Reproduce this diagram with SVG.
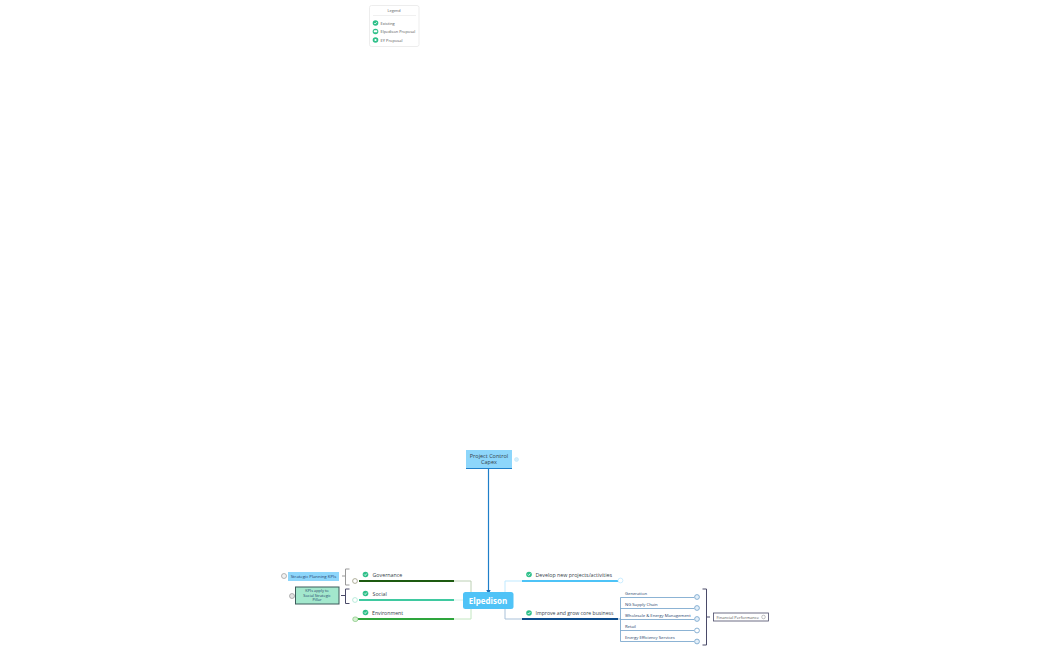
<svg xmlns="http://www.w3.org/2000/svg" width="1050" height="650" viewBox="0 0 1050 650">
<style>
text{font-family:"Open Sans","Liberation Sans",sans-serif;fill:#35424a}
.m{font-size:5.300px}
.b{font-size:4.200px;font-weight:500;fill:#24406a}
.l{font-size:4px;fill:#555}
.c{fill:none;stroke-width:1}
.dot{fill:#2fc08a}
.k{fill:none;stroke:#fff;stroke-width:.8}
.o{fill:#fff;stroke-width:.8}
.t{fill:#e4f0fa;stroke:#6f9fc9;stroke-width:.8}
.br{fill:none;stroke:#4a4a68;stroke-width:1}
</style>
<defs>
<marker id="a" markerWidth="4" markerHeight="4" refX="2" refY="2" orient="auto"><path d="M0 0L4 2L0 4Z" fill="#1f6fb5"/></marker>
<g id="chk"><circle r="2.800" class="dot"/><path d="M-1.300 0L-.3 1L1.300 -.9" class="k"/></g>
</defs>
<rect width="1050" height="650" fill="#fff"/>
<g id="connectors">
<path d="M488.500 469V592" fill="none" stroke="#1f7fc9" stroke-width="1.200" marker-end="url(#a)"/>
<path d="M463 600H454" class="c" stroke="#d5f2e8"/>
<path d="M471 593V581H454" class="c" stroke="#bcd0b4"/>
<path d="M471 608V619H454" class="c" stroke="#c2e6c0"/>
<path d="M505 593V581H522" class="c" stroke="#bfe9ff"/>
<path d="M505 608V619H522" class="c" stroke="#a9c1d9"/>
<path d="M359 581H454" fill="none" stroke="#1d5a10" stroke-width="1.800"/>
<path d="M359 600H454" fill="none" stroke="#3fc9a0" stroke-width="1.800"/>
<path d="M358 619H454" fill="none" stroke="#2ea53c" stroke-width="1.800"/>
<path d="M522 581H618" fill="none" stroke="#4dc3f7" stroke-width="1.800"/>
<path d="M522 619H618" fill="none" stroke="#0d4c8c" stroke-width="1.800"/>
<path d="M618 619H620.500M620.500 597.500V641.500M620.500 597.500H694M620.500 608.500H694M620.500 619.500H694M620.500 630.500H694M620.500 641.500H694" fill="none" stroke="#6f9fc9" stroke-width=".8"/>
</g>
<g id="legend">
<rect x="369.500" y="5.500" width="49.500" height="41" rx="2" fill="#fff" stroke="#e8e8e8" stroke-width=".8"/>
<text x="394" y="11.500" text-anchor="middle" class="l" style="font-size:3.800px">Legend</text>
<path d="M373 15.500H416" stroke="#e5e5e5" stroke-width=".6"/>
<use href="#chk" x="375.500" y="23"/><text x="380.500" y="24.500" class="l">Existing</text>
<circle cx="375.500" cy="31.500" r="2.800" class="dot"/><rect x="373.800" y="30.300" width="3.400" height="2" rx=".5" fill="#fff"/><text x="380.500" y="33" class="l" style="font-size:3.900px">Elpedison Proposal</text>
<circle cx="375.500" cy="40" r="2.800" class="dot"/><circle cx="375.500" cy="40" r="1.100" fill="#fff"/><text x="380.500" y="41.500" class="l">EY Proposal</text>
</g>
<g id="node-capex">
<rect x="466" y="450" width="46" height="19" fill="#8dd6fb"/>
<path d="M466 468.500H512" stroke="#1f7fc9" stroke-width="1"/>
<text x="489" y="457.500" text-anchor="middle" class="m" style="font-size:5.500px">Project Control</text>
<text x="489" y="463.800" text-anchor="middle" class="m" style="font-size:5.500px">Capex</text>
<circle cx="516.500" cy="459.500" r="2" fill="#d6effb" stroke="#bfe6fa" stroke-width=".6"/>
</g>
<g id="node-elpedison">
<rect x="463" y="592" width="50.500" height="17" rx="2.500" fill="#4fc3f7"/>
<text x="488" y="603.500" text-anchor="middle" style="fill:#fff;font-size:8px;font-weight:700">Elpedison</text>
</g>
<g id="node-governance">
<use href="#chk" x="365.500" y="574.500"/><text x="372.500" y="576.800" class="m">Governance</text>
<circle cx="355" cy="581" r="2.400" class="o" stroke="#9a9a80"/>
</g>
<g id="node-social">
<use href="#chk" x="365.500" y="593.500"/><text x="372.500" y="595.800" class="m">Social</text>
<circle cx="355" cy="600" r="2.400" class="o" stroke="#a8e6d2"/>
</g>
<g id="node-environment">
<use href="#chk" x="365.500" y="612.500"/><text x="372" y="614.800" class="m" style="font-size:5.200px">Environment</text>
<rect x="352.800" y="617" width="5" height="4.500" rx="2" fill="#d6f0d0" stroke="#7cc47a" stroke-width=".7"/>
</g>
<g id="node-develop">
<use href="#chk" x="529" y="574.500"/><text x="535.500" y="576.800" class="m">Develop new projects/activities</text>
<circle cx="620.500" cy="580.500" r="2.400" class="o" stroke="#bfe9ff"/>
</g>
<g id="node-improve">
<use href="#chk" x="529" y="613"/><text x="535.500" y="615.300" class="m" style="font-size:5.150px">Improve and grow core business</text>
</g>
<g id="node-kpis">
<rect x="288" y="572" width="51" height="9" fill="#8dd6fb"/>
<text x="313.500" y="577.800" text-anchor="middle" class="b" style="font-size:4.300px">Strategic Planning KPIs</text>
<circle cx="284" cy="576" r="2.500" fill="#f2f2f2" stroke="#888" stroke-width=".6"/>
<path d="M345 576H342M349.500 569H345.500V585H349.500" style="fill:none;stroke:#999;stroke-width:1"/>
</g>
<g id="node-pillar">
<rect x="295.500" y="587" width="43.500" height="17" fill="#a3e8cd" stroke="#3c5a5a" stroke-width="1"/>
<text x="317" y="591.800" text-anchor="middle" class="b" style="font-size:3.900px">KPIs apply to</text>
<text x="317" y="596.600" text-anchor="middle" class="b" style="font-size:3.900px">Social Strategic</text>
<text x="317" y="601.400" text-anchor="middle" class="b" style="font-size:3.900px">Pillar</text>
<circle cx="292" cy="596" r="2.500" fill="#e2e2e2" stroke="#888" stroke-width=".6"/>
<path d="M345 595.500H341M349.500 589H345.500V603.500H349.500" class="br"/>
</g>
<g id="node-generation"><text x="625" y="594.500" class="b">Generation</text><circle cx="697" cy="597" r="2.400" class="t"/></g>
<g id="node-ng"><text x="625" y="605.500" class="b">NG Supply Chain</text><circle cx="697" cy="608" r="2.400" class="t"/></g>
<g id="node-wholesale"><text x="625" y="617" class="b">Wholesale &amp; Energy Management</text><circle cx="697" cy="619" r="2.400" class="t"/></g>
<g id="node-retail"><text x="625" y="628" class="b">Retail</text><circle cx="697" cy="630.500" r="2.400" class="o" stroke="#6f9fc9"/></g>
<g id="node-efficiency"><text x="625" y="639" class="b">Energy Efficiency Services</text><circle cx="697" cy="641.500" r="2.400" class="t"/></g>
<g id="node-financial">
<path d="M702.500 589H706.500V645H702.500M706.500 617H710" class="br"/>
<rect x="713.500" y="613" width="55" height="8" fill="#fff" stroke="#4a4a68" stroke-width=".8"/>
<text x="716.500" y="618.800" class="l" style="font-size:4.100px">Financial Performance</text>
<circle cx="763.500" cy="617" r="1.800" fill="#fff" stroke="#888" stroke-width=".5"/>
</g>
</svg>
